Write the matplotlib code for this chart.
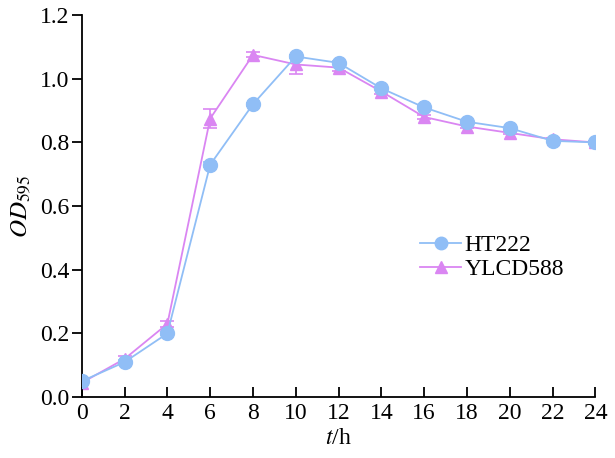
import matplotlib
matplotlib.use("Agg")
import matplotlib.pyplot as plt
from matplotlib.lines import Line2D

plt.rcParams['font.family'] = ['Liberation Serif', 'DejaVu Serif']
plt.rcParams['mathtext.fontset'] = 'stix'

hours = [0, 2, 4, 6, 8, 10, 12, 14, 16, 18, 20, 22, 24]
ht222 = [0.05, 0.11, 0.20, 0.73, 0.92, 1.07, 1.05, 0.97, 0.91, 0.865, 0.845, 0.805, 0.80]
ht222_err = [0.005, 0.005, 0.005, 0.008, 0.005, 0.005, 0.005, 0.005, 0.005, 0.005, 0.005, 0.005, 0.005]
ylcd588 = [0.045, 0.12, 0.23, 0.875, 1.075, 1.045, 1.035, 0.96, 0.88, 0.85, 0.83, 0.81, 0.80]
ylcd588_err = [0.005, 0.008, 0.01, 0.03, 0.008, 0.03, 0.01, 0.008, 0.005, 0.005, 0.005, 0.005, 0.005]

blue = '#90BEF6'
pink = '#DA86F2'

fig = plt.figure(figsize=(6.15, 4.58), dpi=100)
ax = fig.add_axes([0.133, 0.133, 0.835, 0.834])

ax.errorbar(hours, ylcd588, yerr=ylcd588_err, color=pink, marker='^', markersize=9,
            lw=1.3, capsize=5, elinewidth=1.2, capthick=1.2, zorder=2)
ax.errorbar(hours, ht222, yerr=ht222_err, color=blue, marker='o', markersize=10,
            lw=1.3, capsize=5, elinewidth=1.2, capthick=1.2, zorder=3)

ax.set_xlim(0, 24)
ax.set_ylim(0, 1.2)
ax.set_xticks(range(0, 25, 2))
ax.set_yticks([0.0, 0.2, 0.4, 0.6, 0.8, 1.0, 1.2])
ax.set_yticklabels(['0.0', '0.2', '0.4', '0.6', '0.8', '1.0', '1.2'])
ax.spines['top'].set_visible(False)
ax.spines['right'].set_visible(False)
for s in ('left', 'bottom'):
    ax.spines[s].set_linewidth(1.3)
ax.tick_params(axis='x', direction='in', length=7, width=1.3, labelsize=17, pad=4)
ax.tick_params(axis='y', direction='out', length=7, width=1.3, labelsize=17, pad=2)

ax.set_xlabel('$\\it{t}$/h', fontsize=17, labelpad=3)
ax.set_ylabel('$\\it{OD}_{595}$', fontsize=18, labelpad=6)

handles = [
    Line2D([], [], color=blue, marker='o', markersize=9, lw=1.3),
    Line2D([], [], color=pink, marker='^', markersize=9, lw=1.3),
]
ax.legend(handles, ['HT222', 'YLCD588'], loc='upper left', bbox_to_anchor=(0.64, 0.45),
          frameon=False, fontsize=17, handlelength=1.75, handletextpad=0.15,
          labelspacing=0.1, borderaxespad=0)

fig.savefig('out.png', dpi=100)
